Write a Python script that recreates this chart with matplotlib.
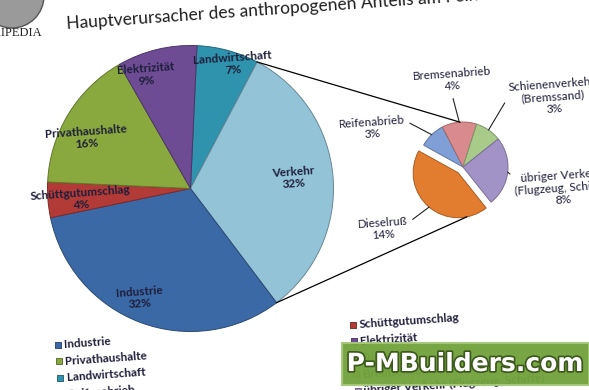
"""Pie-of-pie: main contributors to anthropogenic fine dust (Feinstaub)."""
import math

import matplotlib
matplotlib.use("Agg")
import matplotlib.pyplot as plt
import matplotlib.patheffects as pe
from matplotlib import colors as mcolors
from matplotlib.patches import Circle, Rectangle

W, H = 589, 390
ROT = 4.0  # the whole scan is tilted a little

TITLE = "Hauptverursacher des anthropogenen Anteils am Feinstaub in Deutschland"

MAIN_LABELS = ["Landwirtschaft", "Verkehr", "Industrie", "Schüttgutumschlag",
               "Privathaushalte", "Elektrizität"]
MAIN_VALUES = [7, 32, 32, 4, 16, 9]
MAIN_COLORS = ["#2f93ae", "#93c3d7", "#3b69a6", "#b33b37", "#89a93e", "#6d4c94"]

SUB_LABELS = ["Reifenabrieb", "Bremsenabrieb", "Schienenverkehr\n(Bremssand)",
              "übriger Verkehr\n(Flugzeug, Schiffe)", "Dieselruß"]
SUB_VALUES = [3, 4, 3, 8, 14]
SUB_COLORS = ["#7f9fd6", "#d98a8c", "#a9cb8a", "#a293c6", "#e27c2f"]

LEGEND_LEFT = ["Industrie", "Privathaushalte", "Landwirtschaft", "Reifenabrieb",
               "Schienenverkehr (Bremssand)"]
LEGEND_RIGHT = ["Schüttgutumschlag", "Elektrizität", "Dieselruß", "Bremsenabrieb",
                "übriger Verkehr (Flugzeug, Schiffe)"]

# label anchor positions in picture pixels (x right, y down)
MAIN_LABEL_POS = [(233, 64), (294, 178), (140, 298), (81, 199), (86, 138), (146, 75)]
SUB_LABEL_POS = [(372, 128), (452, 80), (553, 97), (562, 188), (383, 229)]
SUB_RELPOS = [(1.0, 0.75), (0.5, 0.0), (0.0, 0.5), (0.0, 0.75), (1.0, 0.75)]

TEXT_COLOR = "#1e1e3a"
FONT = ["Lato", "DejaVu Sans"]


def img(x, y):
    return x, H - y


def darker(c, f=0.7):
    r, g, b = mcolors.to_rgb(c)
    return (r * f, g * f, b * f)


def pct(v, total):
    return f"{round(100 * v / total)}%"


fig = plt.figure(figsize=(W / 100, H / 100), dpi=100)
ax = fig.add_axes([0, 0, 1, 1])

total = sum(MAIN_VALUES)
main_wedges, _ = ax.pie(MAIN_VALUES, colors=MAIN_COLORS, startangle=87.4,
                        counterclock=False, center=img(190.5, 188.5), radius=143,
                        wedgeprops=dict(linewidth=0.7))
for w, c in zip(main_wedges, MAIN_COLORS):
    w.set_edgecolor(darker(c))

sub_wedges, _ = ax.pie(SUB_VALUES, colors=SUB_COLORS, startangle=151,
                       counterclock=False, center=img(463, 167), radius=45,
                       explode=[0, 0, 0, 0, 7.5],
                       wedgeprops=dict(linewidth=0.7))
for w, c in zip(sub_wedges, SUB_COLORS):
    w.set_edgecolor(darker(c, 0.75))

for lab, v, (x, y) in zip(MAIN_LABELS, MAIN_VALUES, MAIN_LABEL_POS):
    ax.text(*img(x, y), f"{lab}\n{pct(v, total)}", ha="center", va="center",
            rotation=ROT, fontsize=8.5, fontweight="bold", color=TEXT_COLOR,
            family=FONT, linespacing=1.15)


def on_edge(w, deg):
    cx, cy = w.center
    return (cx + w.r * math.cos(math.radians(deg)),
            cy + w.r * math.sin(math.radians(deg)))


for w, lab, v, (x, y), rp in zip(sub_wedges, SUB_LABELS, SUB_VALUES,
                                  SUB_LABEL_POS, SUB_RELPOS):
    mid = 0.5 * (w.theta1 + w.theta2)
    ax.annotate(f"{lab}\n{pct(v, total)}", xy=on_edge(w, mid), xytext=img(x, y),
                ha="center", va="center", rotation=ROT, fontsize=8.5,
                color=TEXT_COLOR, family=FONT, linespacing=1.15,
                arrowprops=dict(arrowstyle="-", color="#222222", lw=0.8,
                                relpos=rp, shrinkA=1, shrinkB=0))

# series lines between the Verkehr slice and the second pie
verkehr = main_wedges[MAIN_LABELS.index("Verkehr")]
ax.plot(*zip(on_edge(verkehr, verkehr.theta2), on_edge(sub_wedges[1], 94)),
        color="black", lw=0.9)
ax.plot(*zip(on_edge(verkehr, verkehr.theta1), on_edge(sub_wedges[4], -79)),
        color="black", lw=0.9)

# title, tilted like the scan
ax.text(*img(67, 29), TITLE, ha="left", va="baseline", rotation=ROT,
        rotation_mode="anchor", fontsize=12.5, color="#1f1f1f", family=FONT)

# legend, two tilted columns
colour_of = dict(zip(MAIN_LABELS + SUB_LABELS, MAIN_COLORS + SUB_COLORS))
colour_of.update({l.replace("\n", " "): c for l, c in zip(SUB_LABELS, SUB_COLORS)})
step = (16.5 * math.sin(math.radians(ROT)), 16.5 * math.cos(math.radians(ROT)))
for (x0, y0), names in (((58, 345), LEGEND_LEFT), ((353, 325), LEGEND_RIGHT)):
    for i, name in enumerate(names):
        x, y = x0 + i * step[0], y0 + i * step[1]
        ax.scatter(*img(x, y), marker="s", s=22, color=colour_of[name],
                   edgecolor=darker(colour_of[name], 0.6), linewidth=0.6,
                   zorder=3, clip_on=False)
        ax.text(*img(x + 6, y), name, ha="left", va="center", rotation=ROT,
                rotation_mode="anchor", fontsize=8.5, fontweight="bold",
                color=TEXT_COLOR, family=FONT)

# wikipedia logo remnant in the corner
ax.add_patch(Circle(img(12, -4), 32, facecolor="#9a9a9a", edgecolor="#555555",
                    lw=1.0, zorder=4))
ax.text(*img(43, 33), "WIKIPEDIA", ha="right", va="center", fontsize=9,
        family=["Liberation Serif", "DejaVu Serif"], color="#222222", zorder=4)

# site watermark
x0, y0 = img(342, 385)
ax.add_patch(Rectangle((x0, y0), W - x0, 42, facecolor="#74a33d",
                       edgecolor="#a6c77a", lw=1.5, zorder=5, alpha=0.96))
ax.text(*img(465, 364), "P-MBuilders.com", ha="center", va="center",
        fontsize=18, fontweight="bold", color="white", family="DejaVu Sans",
        zorder=6, path_effects=[pe.withStroke(linewidth=2.5, foreground="#3d5a1c")])

ax.set_xlim(0, W)
ax.set_ylim(0, H)
ax.set_aspect("equal")
ax.axis("off")

fig.savefig("out.png", dpi=100)
